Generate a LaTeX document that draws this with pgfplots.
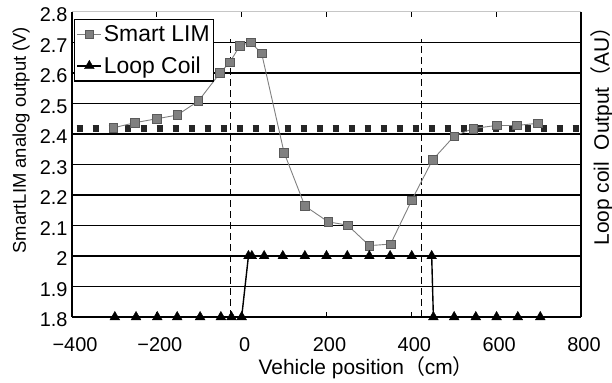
\documentclass[border=0pt]{standalone}
\usepackage{pgfplots}
\pgfplotsset{compat=1.18}
\usepackage{fontspec}
\setmainfont{Liberation Sans}
\newfontfamily\cjk{Noto Sans CJK JP}
\definecolor{limgray}{HTML}{808080}
\definecolor{limedge}{HTML}{5A5A5A}
\definecolor{dotdark}{HTML}{262626}
\begin{document}
\begin{tikzpicture}
\begin{axis}[
  at={(72bp,66bp)}, anchor=south west,
  width=509bp, height=305bp, scale only axis,
  xmin=-400, xmax=800, ymin=1.8, ymax=2.8,
  xtick={-400,-200,0,200,400,600,800},
  xticklabels={−400,−200,0,200,400,600,800},
  ytick={1.8,1.9,2.0,2.1,2.2,2.3,2.4,2.5,2.6,2.7,2.8},
  yticklabels={1.8,1.9,2,2.1,2.2,2.3,2.4,2.5,2.6,2.7,2.8},
  axis line style={draw=none},
  tick align=inside, major tick length=5bp,
  xtick style={black, line width=0.8bp},
  ytick style={draw=none},
  ticklabel style={font=\fontsize{20}{21}\selectfont},
  xticklabel style={yshift=-17bp, xshift=3bp},
  yticklabel style={xshift=-1bp, yshift=-3bp},
  xlabel={Vehicle position{\cjk（}cm{\cjk）}},
  xlabel style={font=\fontsize{21}{22}\selectfont, at={(axis description cs:0.578,-0.167)}, anchor=center},
  ylabel={SmartLIM analog output (V)},
  ylabel style={font=\fontsize{18.5}{20}\selectfont, at={(axis description cs:-0.1,0.58)}, anchor=center},
  clip=false,
  legend style={at={(rel axis cs:0.004,0.978)}, anchor=north west, draw=black, line width=1.4bp,
    fill=white, font=\fontsize{23}{25}\selectfont, inner xsep=2bp, inner ysep=4bp,
    row sep=10bp, cells={anchor=west}},
  legend image code/.code={\draw[mark repeat=2,mark phase=2] plot coordinates {(0cm,0cm) (0.42cm,0cm) (0.84cm,0cm)};},
]
% grid lines
\pgfplotsinvokeforeach{1.9,2.0,2.1,2.2,2.3,2.4,2.5,2.6,2.7}{
  \draw[black, line width=1.3bp] (axis cs:-400,#1) -- (axis cs:800,#1);
}
\draw[gray!45, line width=1bp] (axis cs:-400,2.8) -- (axis cs:800,2.8);
\draw[black, line width=1.6bp] (axis cs:-400,1.8) -- (axis cs:800,1.8);
\draw[black, line width=2bp] (axis cs:-400,1.8) -- (axis cs:-400,2.8);
\draw[black, line width=1.5bp] (axis cs:800,1.8) -- (axis cs:800,2.8);
% dashed verticals
\draw[black, line width=1.3bp, dash pattern=on 7bp off 4bp] (axis cs:-26,1.8) -- (axis cs:-26,2.71);
\draw[black, line width=1.3bp, dash pattern=on 7bp off 4bp] (axis cs:424,1.8) -- (axis cs:424,2.71);
% baseline dotted
\addplot[forget plot, dotdark, line width=6.5bp, dash pattern=on 6.5bp off 9.5bp, dash phase=-4.5bp] coordinates {(-400,2.418) (800,2.418)};
% Smart LIM
\addplot[limgray, line width=0.9bp, mark=square*, mark size=4.3bp,
  mark options={fill=limgray, draw=limedge, line width=0.6bp}] coordinates {
(-303,2.42)(-252,2.437)(-200,2.45)(-152,2.462)(-102,2.508)(-51,2.60)(-28,2.635)(-4,2.69)(21,2.70)(47,2.665)(100,2.339)(149,2.164)(204,2.112)(250,2.101)(301,2.034)(351,2.039)(401,2.183)(450,2.315)(501,2.393)(546,2.418)(601,2.428)(648,2.428)(698,2.435)
};
\addlegendentry{Smart LIM}
% Loop coil
\addplot[black, line width=1.4bp, mark=triangle*, mark size=5.6bp,
  mark options={fill=black, draw=black, line width=0.4bp}] coordinates {
(-299,1.8)(-249,1.8)(-199,1.8)(-152,1.8)(-98,1.8)(-49,1.8)(-24,1.8)(0,1.8)(16,2.0)(24,2.0)(53,2.0)(97,2.0)(149,2.0)(200,2.0)(249,2.0)(301,2.0)(350,2.0)(401,2.0)(448,2.0)(452,1.8)(501,1.8)(552,1.8)(601,1.8)(651,1.8)(704,1.8)
};
\addlegendentry{Loop Coil}
\end{axis}
\node[rotate=90, anchor=center, font=\fontsize{21}{23}\selectfont] at (602bp,252bp) {Loop coil\ \ Output{\cjk（}AU{\cjk）}};
\pgfresetboundingbox
\path[use as bounding box] (0,0) rectangle (612bp,383bp);
\end{tikzpicture}
\end{document}
